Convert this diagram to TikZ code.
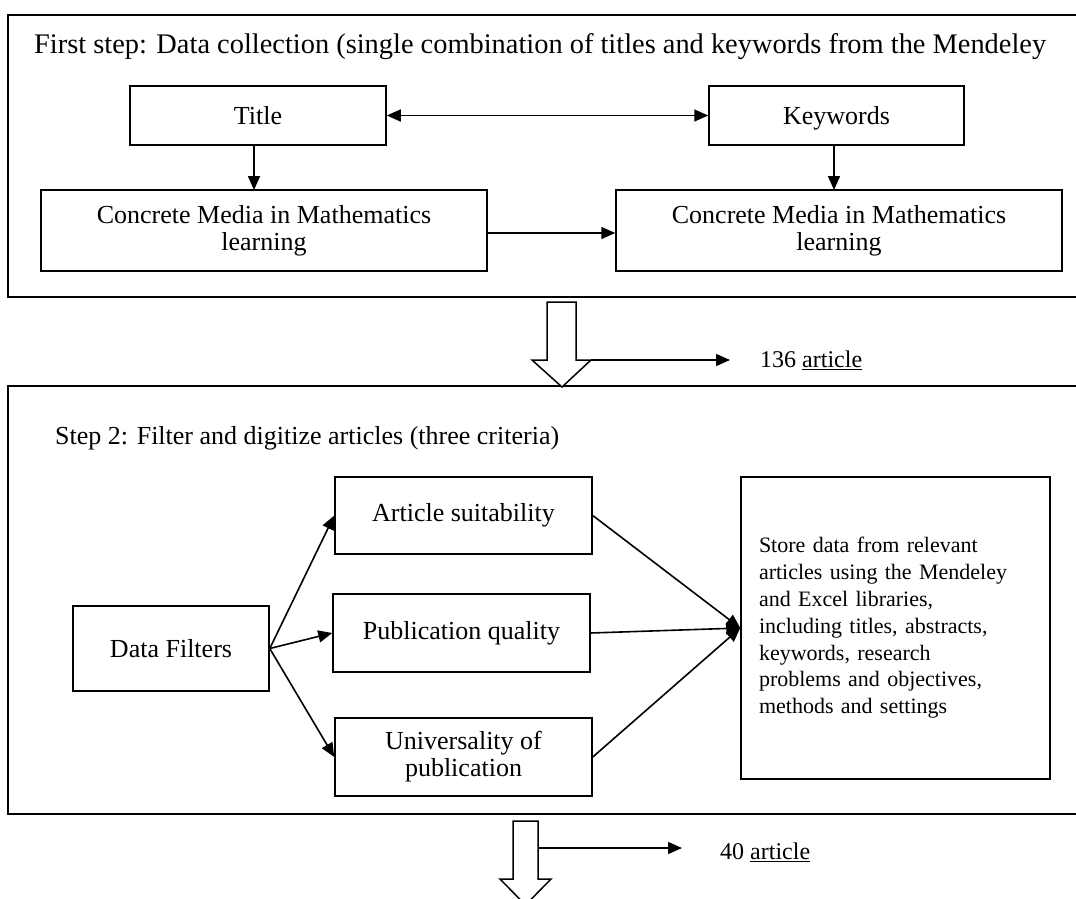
\documentclass[tikz,border=0pt]{standalone}
\usepackage{fontspec}
\setmainfont{Liberation Serif}
\usetikzlibrary{positioning, arrows.meta}

\begin{document}
\begin{tikzpicture}[x=1pt, y=-1pt, line join=miter]
        % Define styles for shapes
        \tikzstyle{frame} = [draw, line width=1.6pt, inner sep=0pt]
        \tikzstyle{box} = [draw, line width=1.5pt, inner sep=0pt, align=center, font=\fontsize{26}{27}\selectfont]
        \tikzstyle{link} = [line width=1.6pt, -{Triangle[length=14pt, width=12pt]}]
        \tikzstyle{blockarrow} = [draw, line width=1.5pt, fill=white]
        \useasboundingbox (0,0) rectangle (1076,899);

        % Draw frames
        \node[frame, minimum width=1082pt, minimum height=282pt] (stepone) at (549,156) {};
        \node[frame, minimum width=1082pt, minimum height=428pt] (steptwo) at (549,600) {};
        \node[anchor=west, inner sep=0pt, font=\fontsize{28.4}{30}\selectfont] (headone) at (34,47)
            {First step: Data collection (single combination of titles and keywords from the Mendeley};
        \node[anchor=west, inner sep=0pt, font=\fontsize{26}{28}\selectfont] (headtwo) at (55,438)
            {Step 2: Filter and digitize articles (three criteria)};

        % Draw shapes
        \node[box, minimum width=256pt, minimum height=59pt, text height=20pt, text depth=3pt] (title) at (258,115.5) {Title};
        \node[box, minimum width=255pt, minimum height=59pt, text height=20pt, text depth=3pt] (keywords) at (836.5,115.5) {Keywords};
        \node[box, minimum width=446pt, minimum height=81pt] (mediaL) at (264,230.5) {Concrete Media in Mathematics\\learning};
        \node[box, minimum width=446pt, minimum height=81pt] (mediaR) at (839,230.5) {Concrete Media in Mathematics\\learning};

        \node[box, minimum width=196pt, minimum height=85pt] (filters) at (171,648.5) {Data Filters};
        \node[box, minimum width=257pt, minimum height=77pt] (suit) at (463.5,515.5) {Article suitability};
        \node[box, minimum width=257pt, minimum height=78pt] (pubq) at (461.5,633) {Publication quality};
        \node[box, minimum width=257pt, minimum height=78pt] (univ) at (463.5,757) {Universality of\\publication};
        \node[draw, line width=1.5pt, minimum width=309pt, minimum height=302pt, inner xsep=18pt, text width=273pt,
              align=left, font=\fontsize{22}{26.8}\selectfont] (store) at (895.5,628)
            {Store data from relevant\\articles using the Mendeley\\and Excel libraries,\\including titles, abstracts,\\keywords, research\\problems and objectives,\\methods and settings};

        % Block arrows
        \draw[blockarrow] (547,302) -- (576,302) -- (576,360) -- (591,360) -- (562,387) -- (532,360) -- (547,360) -- cycle;
        \coordinate (outone) at (591,360);
        \node[anchor=west, inner sep=0pt, font=\fontsize{24}{26}\selectfont] (countone) at (760,360) {136 \underline{article}};
        \draw[blockarrow] (513,821) -- (538,821) -- (538,879) -- (551,879) -- (525.5,905) -- (500,879) -- (513,879) -- cycle;
        \coordinate (outtwo) at (538,848);
        \node[anchor=west, inner sep=0pt, font=\fontsize{24}{26}\selectfont] (counttwo) at (720,852) {40 \underline{article}};

        % Draw arrows
        \draw[link, {Triangle[length=14pt, width=12pt]}-{Triangle[length=14pt, width=12pt]}] (title) -- (keywords);
        \draw[link] (title.south -| 254,0) -- (254,190);
        \draw[link] (keywords.south -| 834,0) -- (834,190);
        \draw[link] (mediaL.east |- 0,233) -- (mediaR.west |- 0,233);
        \draw[link] (outone) -- (730,360);
        \draw[link] (outtwo) -- (682,848);

        \draw[link] (filters.east) -- (suit.west);
        \draw[link] (filters.east) -- (pubq.west);
        \draw[link] (filters.east) -- (univ.west);
        \draw[link] (suit.east) -- (store.west);
        \draw[link] (pubq.east) -- (store.west);
        \draw[link] (univ.east) -- (store.west);
    \end{tikzpicture}
\end{document}
